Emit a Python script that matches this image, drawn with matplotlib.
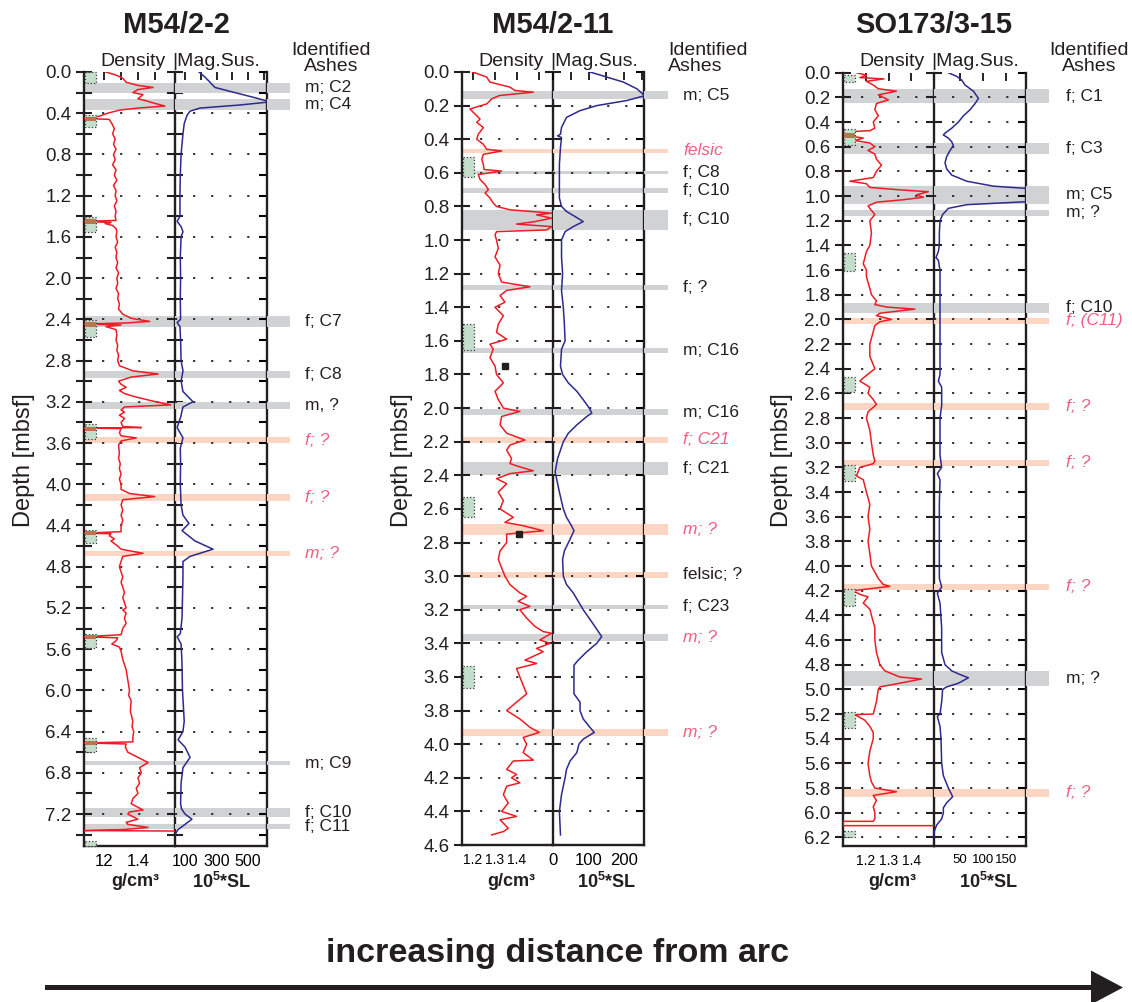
import numpy as np
import matplotlib
matplotlib.use('Agg')
import matplotlib.pyplot as plt
from matplotlib.patches import Rectangle, FancyArrow
from matplotlib.transforms import blended_transform_factory

plt.rcParams['font.family'] = ['Liberation Sans', 'DejaVu Sans']
plt.rcParams['mathtext.fontset'] = 'custom'
plt.rcParams['mathtext.rm'] = 'Liberation Sans'
plt.rcParams['mathtext.bf'] = 'Liberation Sans:bold'

W, H = 1132, 1002
GRAY = '#d1d2d4'
PINK = '#fcd5c3'
PINKTXT = '#ef5f80'
RED = '#ee1c24'
BLUE = '#2b2a8e'

# ---------------- data: M54/2-2 ----------------
m2_density = np.array([
    (0.00,1.21),(0.03,1.27),(0.06,1.31),(0.10,1.33),(0.13,1.40),(0.15,1.49),(0.17,1.40),(0.20,1.37),
    (0.22,1.43),(0.26,1.40),(0.28,1.45),(0.30,1.49),(0.33,1.56),(0.35,1.40),(0.37,1.29),(0.40,1.22),
    (0.43,1.17),(0.45,1.08),(0.46,1.23),(0.50,1.245),(0.55,1.26),(0.60,1.25),(0.65,1.265),(0.70,1.255),
    (0.75,1.27),(0.80,1.255),(0.85,1.265),(0.90,1.25),(0.95,1.27),(1.00,1.26),(1.05,1.275),(1.10,1.255),
    (1.15,1.27),(1.20,1.265),(1.25,1.275),(1.30,1.26),(1.35,1.27),(1.40,1.265),(1.44,1.27),(1.45,1.08),
    (1.46,1.24),(1.47,1.205),(1.49,1.25),(1.52,1.27),(1.55,1.275),(1.60,1.27),(1.65,1.28),(1.70,1.265),
    (1.75,1.275),(1.80,1.27),(1.85,1.28),(1.90,1.27),(1.95,1.285),(2.00,1.275),(2.05,1.28),(2.10,1.27),
    (2.15,1.285),(2.20,1.28),(2.25,1.29),(2.30,1.285),(2.35,1.31),(2.39,1.36),(2.42,1.47),(2.435,1.33),
    (2.445,1.08),(2.455,1.30),(2.47,1.21),(2.50,1.27),(2.55,1.275),(2.60,1.27),(2.65,1.28),(2.70,1.275),
    (2.75,1.285),(2.80,1.28),(2.85,1.29),(2.90,1.37),(2.93,1.52),(2.96,1.36),(3.00,1.285),(3.03,1.30),
    (3.06,1.33),(3.09,1.29),(3.12,1.32),(3.15,1.38),(3.19,1.48),(3.23,1.595),(3.25,1.32),(3.28,1.30),
    (3.30,1.32),(3.33,1.29),(3.36,1.32),(3.40,1.30),(3.44,1.31),(3.45,1.42),(3.455,1.08),(3.46,1.30),
    (3.50,1.29),(3.53,1.30),(3.55,1.39),(3.58,1.30),(3.62,1.285),(3.70,1.29),(3.75,1.285),(3.80,1.295),
    (3.85,1.29),(3.90,1.30),(3.95,1.29),(4.00,1.30),(4.05,1.30),(4.09,1.35),(4.12,1.50),(4.15,1.31),
    (4.20,1.30),(4.25,1.31),(4.30,1.30),(4.35,1.31),(4.40,1.30),(4.46,1.30),(4.475,1.08),(4.48,1.24),
    (4.50,1.23),(4.53,1.26),(4.55,1.24),(4.60,1.28),(4.63,1.30),(4.67,1.43),(4.70,1.31),(4.75,1.30),
    (4.80,1.29),(4.85,1.30),(4.90,1.31),(4.95,1.30),(5.00,1.31),(5.05,1.32),(5.10,1.31),(5.15,1.32),
    (5.20,1.33),(5.22,1.31),(5.25,1.33),(5.30,1.32),(5.35,1.33),(5.40,1.31),(5.46,1.30),(5.48,1.08),
    (5.49,1.28),(5.52,1.27),(5.55,1.245),(5.58,1.29),(5.62,1.30),(5.70,1.31),(5.80,1.33),(5.90,1.34),
    (6.00,1.35),(6.05,1.345),(6.10,1.36),(6.20,1.355),(6.30,1.37),(6.35,1.365),(6.40,1.375),(6.45,1.37),
    (6.50,1.37),(6.51,1.08),(6.52,1.33),(6.55,1.325),(6.60,1.34),(6.65,1.40),(6.70,1.46),(6.75,1.41),
    (6.80,1.42),(6.85,1.40),(6.90,1.41),(6.95,1.39),(7.00,1.40),(7.05,1.37),(7.10,1.36),(7.16,1.43),
    (7.18,1.35),(7.20,1.34),(7.25,1.40),(7.28,1.33),(7.30,1.34),(7.33,1.46),(7.35,1.32),(7.36,1.08),
    (7.365,1.62)])
m2_magsus = np.array([
    (0.00,189),(0.05,227),(0.10,259),(0.15,290),(0.20,417),(0.25,544),(0.29,640),(0.32,449),(0.35,195),
    (0.38,132),(0.42,113),(0.50,95),(0.60,87),(0.80,75),(1.00,70),(1.20,68),(1.40,68),(1.45,50),(1.50,75),
    (1.55,87),(1.60,75),(1.80,70),(2.00,72),(2.20,70),(2.40,72),(2.43,50),(2.47,68),(2.60,72),(2.80,75),
    (2.90,87),(3.00,75),(3.10,87),(3.20,151),(3.25,87),(3.35,72),(3.45,50),(3.55,87),(3.65,70),(3.80,72),
    (4.00,70),(4.20,75),(4.30,87),(4.38,125),(4.45,81),(4.55,163),(4.63,278),(4.70,132),(4.75,87),
    (4.90,87),(5.10,84),(5.30,81),(5.45,70),(5.48,50),(5.55,75),(5.70,80),(6.00,84),(6.30,95),(6.40,87),
    (6.48,56),(6.55,100),(6.65,132),(6.75,87),(6.90,75),(7.10,72),(7.15,78),(7.20,100),(7.25,144),
    (7.30,100),(7.35,56),(7.40,36)])
m2_band_top = [0.11, 0.26, 2.37, 2.90, 3.20, 3.545, 4.09, 4.645, 6.69, 7.14, 7.30]
m2_band_bot = [0.20, 0.37, 2.47, 2.97, 3.27, 3.60, 4.16, 4.70, 6.72, 7.225, 7.345]
m2_band_kind = ['g', 'g', 'g', 'g', 'g', 'p', 'p', 'p', 'g', 'g', 'g']
m2_labels = ['m; C2', 'm; C4', 'f; C7', 'f; C8', 'm, ?', 'f; ?', 'f; ?', 'm; ?', 'm; C9', 'f; C10', 'f; C11']
m2_label_pink = [0, 0, 0, 0, 0, 1, 1, 1, 0, 0, 0]
m2_box_top = [0.00, 0.42, 1.41, 2.406, 3.415, 4.445, 5.45, 6.46, 7.46]
m2_box_bot = [0.11, 0.53, 1.555, 2.57, 3.56, 4.57, 5.59, 6.60, 7.51]
m2_brown_top = [0.44, 1.43, 2.43, 3.44, 4.455, 5.46, 6.49]
m2_brown_bot = [0.48, 1.475, 2.47, 3.48, 4.49, 5.50, 6.53]

# ---------------- data: M54/2-11 ----------------
m11_density = np.array([
    (0.00,1.198),(0.03,1.262),(0.06,1.277),(0.09,1.368),(0.11,1.39),(0.12,1.474),(0.14,1.32),(0.16,1.285),
    (0.19,1.262),(0.22,1.186),(0.25,1.209),(0.28,1.232),(0.30,1.217),(0.33,1.247),(0.37,1.224),(0.40,1.217),
    (0.43,1.247),(0.46,1.262),(0.47,1.33),(0.49,1.247),(0.52,1.24),(0.55,1.247),(0.58,1.25),(0.59,1.33),
    (0.61,1.224),(0.64,1.232),(0.67,1.255),(0.70,1.27),(0.72,1.255),(0.75,1.277),(0.78,1.292),(0.80,1.307),
    (0.82,1.368),(0.84,1.557),(0.85,1.489),(0.87,1.557),(0.89,1.482),(0.905,1.398),(0.92,1.557),(0.94,1.535),
    (0.95,1.307),(0.97,1.30),(1.00,1.307),(1.05,1.315),(1.10,1.30),(1.15,1.323),(1.20,1.315),(1.25,1.33),
    (1.278,1.459),(1.30,1.353),(1.33,1.323),(1.37,1.345),(1.40,1.30),(1.45,1.338),(1.50,1.315),(1.55,1.307),
    (1.59,1.353),(1.62,1.277),(1.65,1.292),(1.70,1.277),(1.75,1.30),(1.80,1.307),(1.85,1.338),(1.90,1.30),
    (1.95,1.315),(2.00,1.338),(2.02,1.413),(2.05,1.33),(2.10,1.323),(2.15,1.353),(2.19,1.436),(2.22,1.368),
    (2.25,1.353),(2.30,1.375),(2.33,1.368),(2.35,1.413),(2.373,1.474),(2.39,1.368),(2.42,1.307),(2.45,1.353),
    (2.50,1.315),(2.55,1.338),(2.60,1.323),(2.65,1.383),(2.68,1.345),(2.70,1.428),(2.73,1.519),(2.75,1.353),
    (2.80,1.353),(2.85,1.323),(2.90,1.315),(2.95,1.33),(3.00,1.345),(3.05,1.368),(3.10,1.413),(3.12,1.444),
    (3.15,1.405),(3.18,1.459),(3.20,1.413),(3.25,1.444),(3.30,1.482),(3.33,1.519),(3.34,1.557),(3.38,1.504),
    (3.40,1.55),(3.43,1.489),(3.45,1.519),(3.50,1.436),(3.52,1.489),(3.55,1.398),(3.60,1.413),(3.65,1.428),
    (3.70,1.444),(3.75,1.398),(3.80,1.353),(3.85,1.413),(3.90,1.459),(3.93,1.501),(3.96,1.428),(4.00,1.444),
    (4.05,1.428),(4.095,1.474),(4.10,1.383),(4.15,1.353),(4.18,1.398),(4.20,1.375),(4.23,1.413),(4.25,1.353),
    (4.30,1.338),(4.35,1.36),(4.40,1.33),(4.43,1.398),(4.45,1.323),(4.50,1.36),(4.52,1.338),(4.54,1.285)])
m11_magsus = np.array([
    (0.00,104),(0.03,151),(0.06,198),(0.10,236),(0.141,258),(0.17,207),(0.20,123),(0.23,76),(0.27,38),
    (0.33,24),(0.37,21),(0.38,13),(0.39,24),(0.45,21),(0.55,18),(0.65,18),(0.75,18),(0.80,24),(0.83,38),
    (0.86,62),(0.89,85),(0.92,57),(0.95,34),(1.00,24),(1.10,24),(1.20,27),(1.30,24),(1.40,29),(1.50,32),
    (1.60,34),(1.65,24),(1.75,21),(1.80,27),(1.85,43),(1.90,67),(1.95,85),(2.00,102),(2.03,109),(2.05,95),
    (2.10,67),(2.15,43),(2.20,29),(2.30,13),(2.38,6),(2.45,13),(2.50,18),(2.60,29),(2.65,38),(2.70,52),
    (2.73,59),(2.78,48),(2.85,32),(2.90,27),(3.00,29),(3.05,38),(3.10,57),(3.20,85),(3.30,118),(3.36,137),
    (3.40,123),(3.45,95),(3.50,71),(3.53,59),(3.60,59),(3.70,59),(3.75,76),(3.80,76),(3.85,85),(3.90,104),
    (3.93,116),(3.97,85),(4.00,73),(4.05,67),(4.10,48),(4.15,38),(4.20,34),(4.30,24),(4.40,18),(4.54,21)])
m11_band_top = [0.113, 0.458, 0.587, 0.69, 0.82, 1.268, 1.645, 2.008, 2.17, 2.32, 2.69, 2.974, 3.17, 3.347, 3.912]
m11_band_bot = [0.161, 0.48, 0.607, 0.72, 0.94, 1.30, 1.675, 2.04, 2.206, 2.40, 2.756, 3.01, 3.195, 3.387, 3.952]
m11_band_kind = ['g', 'p', 'g', 'g', 'g', 'g', 'g', 'g', 'p', 'g', 'p', 'p', 'g', 'g', 'p']
m11_labels = ['m; C5', 'felsic', 'f; C8', 'f; C10', 'f; C10', 'f; ?', 'm; C16', 'm; C16', 'f; C21',
              'f; C21', 'm; ?', 'felsic; ?', 'f; C23', 'm; ?', 'm; ?']
m11_label_pink = [0, 1, 0, 0, 0, 0, 0, 0, 1, 0, 1, 0, 0, 1, 1]
m11_box_top = [0.504, 1.50, 2.53, 3.535]
m11_box_bot = [0.623, 1.655, 2.65, 3.667]
m11_brown_top = []
m11_brown_bot = []
m11_marker_depth = [1.75, 2.75]
m11_marker_density = [1.345, 1.41]

# ---------------- data: SO173/3-15 ----------------
s15_density = np.array([
    (0.00,1.159),(0.02,1.203),(0.04,1.174),(0.05,1.28),(0.07,1.203),(0.10,1.233),(0.13,1.255),(0.15,1.335),
    (0.18,1.255),(0.22,1.299),(0.25,1.247),(0.30,1.24),(0.35,1.255),(0.40,1.233),(0.45,1.24),(0.47,1.218),
    (0.48,1.108),(0.51,1.12),(0.53,1.189),(0.55,1.152),(0.57,1.218),(0.60,1.24),(0.63,1.21),(0.66,1.24),
    (0.70,1.247),(0.75,1.269),(0.80,1.247),(0.85,1.233),(0.88,1.13),(0.90,1.203),(0.93,1.218),(0.95,1.35),
    (0.965,1.475),(0.99,1.423),(1.01,1.453),(1.03,1.365),(1.05,1.247),(1.08,1.21),(1.10,1.218),(1.15,1.24),
    (1.20,1.218),(1.30,1.225),(1.40,1.218),(1.45,1.203),(1.50,1.196),(1.55,1.189),(1.60,1.203),(1.65,1.203),
    (1.70,1.21),(1.75,1.218),(1.80,1.225),(1.85,1.247),(1.88,1.24),(1.90,1.291),(1.917,1.416),(1.95,1.262),
    (1.97,1.247),(2.00,1.313),(2.02,1.262),(2.05,1.24),(2.10,1.233),(2.20,1.218),(2.30,1.218),(2.40,1.24),
    (2.475,1.189),(2.50,1.174),(2.55,1.218),(2.60,1.21),(2.65,1.233),(2.69,1.247),(2.75,1.21),(2.80,1.203),
    (2.90,1.218),(3.00,1.225),(3.10,1.233),(3.15,1.24),(3.17,1.233),(3.20,1.174),(3.27,1.159),(3.30,1.189),
    (3.40,1.203),(3.50,1.218),(3.60,1.21),(3.70,1.218),(3.80,1.21),(3.90,1.218),(4.00,1.225),(4.05,1.24),
    (4.10,1.255),(4.15,1.277),(4.165,1.306),(4.20,1.145),(4.23,1.174),(4.25,1.21),(4.30,1.189),(4.35,1.218),
    (4.40,1.225),(4.50,1.24),(4.60,1.24),(4.70,1.247),(4.80,1.262),(4.85,1.284),(4.90,1.35),(4.916,1.445),
    (4.96,1.321),(4.98,1.262),(5.00,1.255),(5.10,1.247),(5.15,1.24),(5.20,1.233),(5.205,1.152),(5.25,1.196),
    (5.30,1.218),(5.35,1.233),(5.40,1.233),(5.50,1.218),(5.60,1.21),(5.70,1.218),(5.75,1.225),(5.80,1.24),
    (5.83,1.335),(5.86,1.233),(5.90,1.247),(5.95,1.233),(6.00,1.24),(6.05,1.24),(6.07,1.233),(6.07,1.10),
    (6.105,1.10),(6.105,1.50)])
s15_magsus = np.array([
    (0.00,24.6),(0.03,43),(0.06,53.6),(0.10,60.9),(0.15,79),(0.208,89.9),(0.25,82.6),(0.30,71.7),(0.35,57.2),
    (0.40,46.4),(0.45,31.9),(0.49,17.4),(0.505,13.8),(0.53,24.6),(0.56,31.9),(0.59,35.5),(0.63,28.3),
    (0.68,21),(0.73,17.4),(0.78,21),(0.83,31.9),(0.88,64.5),(0.92,122.5),(0.94,200),(1.045,200),(1.07,64.5),
    (1.10,24.6),(1.15,12.3),(1.20,6.5),(1.30,5.1),(1.40,5.1),(1.45,2.9),(1.50,-2.2),(1.52,2.9),(1.60,6.5),
    (1.80,6.5),(2.00,6.5),(2.20,6.5),(2.45,6.5),(2.50,2.9),(2.55,10.1),(2.70,10.1),(2.80,6.5),(3.10,6.5),
    (3.20,10.1),(3.25,0.7),(3.30,6.5),(3.50,5.1),(3.80,5.1),(4.10,5.1),(4.17,10.1),(4.22,0.7),(4.30,6.5),
    (4.50,10.1),(4.70,10.1),(4.80,17.4),(4.85,31.9),(4.88,50),(4.906,68.1),(4.95,46.4),(4.98,21),(5.00,12.3),
    (5.10,10.1),(5.20,6.5),(5.22,0.7),(5.30,6.5),(5.40,8.7),(5.60,10.1),(5.70,13.8),(5.80,24.6),(5.87,34),
    (5.92,21),(5.96,13.8),(6.00,13.8),(6.05,10.1),(6.10,-0.7),(6.15,-5.8),(6.20,-6.5)])
s15_band_top = [0.135, 0.567, 0.918, 1.113, 1.864, 1.988, 2.68, 3.139, 4.143, 4.849, 5.805]
s15_band_bot = [0.248, 0.659, 1.064, 1.161, 1.95, 2.036, 2.733, 3.187, 4.192, 4.97, 5.872]
s15_band_kind = ['g', 'g', 'g', 'g', 'g', 'p', 'p', 'p', 'p', 'g', 'p']
s15_labels = ['f; C1', 'f; C3', 'm; C5', 'm; ?', 'f; C10', 'f; (C11)', 'f; ?', 'f; ?', 'f; ?', 'm; ?', 'f; ?']
s15_label_pink = [0, 0, 0, 0, 0, 1, 1, 1, 1, 0, 1]
s15_box_top = [0.02, 0.459, 1.464, 2.47, 3.18, 4.186, 5.18, 6.15]
s15_box_bot = [0.078, 0.586, 1.605, 2.59, 3.31, 4.32, 5.31, 6.20]
s15_brown_top = [0.49]
s15_brown_bot = [0.53]

# ---------------- layout (pixels) ----------------
layouts = [
    dict(title='M54/2-2', x=(84, 175, 267), y=(72, 846), ylim=(0, 7.51), band_end=290, label_x=305,
         dens_lim=(1.08, 1.62), mag_lim=(36.5, 620),
         dens_ticks=[1.1, 1.2, 1.3, 1.4, 1.5], dens_lab=['', '12', '', '1.4', ''],
         mag_ticks=[100, 200, 300, 400, 500, 600], mag_lab=['100', '', '300', '', '500', ''],
         xfs=(12, 11.5), ytick_step=0.2, ylab_every=2, ytop=7.4, title_x=176, unit_x=(135, 222),
         depth_x=24, ident=(331, 'center')),
    dict(title='M54/2-11', x=(462, 553, 644), y=(72, 845), ylim=(0, 4.6), band_end=668, label_x=683,
         dens_lim=(1.15, 1.5636), mag_lim=(0, 256),
         dens_ticks=[1.2, 1.3, 1.4, 1.5], dens_lab=['1.2', '1.3', '1.4', ''],
         mag_ticks=[0, 50, 100, 150, 200, 250], mag_lab=['0', '', '100', '', '200', ''],
         xfs=(10, 12), ytick_step=0.2, ylab_every=1, ytop=4.6, title_x=553, unit_x=(511, 607),
         depth_x=402, ident=(668, 'left')),
    dict(title='SO173/3-15', x=(843, 934, 1026), y=(72.7, 846), ylim=(0, 6.27), band_end=1049, label_x=1066,
         dens_lim=(1.10, 1.496), mag_lim=(-6.5, 193),
         dens_ticks=[1.2, 1.3, 1.4, 1.5], dens_lab=['1.2', '1.3', '1.4', ''],
         mag_ticks=[50, 100, 150], mag_lab=['50', '100', '150'],
         xfs=(10, 9.5), ytick_step=0.2, ylab_every=1, ytop=6.2, title_x=934, unit_x=(892, 989),
         depth_x=782, ident=(1089, 'center')),
]

cores = [
    dict(dens=m2_density, mag=m2_magsus, band_top=m2_band_top, band_bot=m2_band_bot, band_kind=m2_band_kind,
         labels=m2_labels, label_pink=m2_label_pink, box_top=m2_box_top, box_bot=m2_box_bot,
         brown_top=m2_brown_top, brown_bot=m2_brown_bot),
    dict(dens=m11_density, mag=m11_magsus, band_top=m11_band_top, band_bot=m11_band_bot, band_kind=m11_band_kind,
         labels=m11_labels, label_pink=m11_label_pink, box_top=m11_box_top, box_bot=m11_box_bot,
         brown_top=m11_brown_top, brown_bot=m11_brown_bot),
    dict(dens=s15_density, mag=s15_magsus, band_top=s15_band_top, band_bot=s15_band_bot, band_kind=s15_band_kind,
         labels=s15_labels, label_pink=s15_label_pink, box_top=s15_box_top, box_bot=s15_box_bot,
         brown_top=s15_brown_top, brown_bot=s15_brown_bot),
]

fig = plt.figure(figsize=(W / 100, H / 100), dpi=100)
bg = fig.add_axes([0, 0, 1, 1])
bg.set_xlim(0, W)
bg.set_ylim(H, 0)
bg.axis('off')


def fax(x0, x1, y0, y1):
    return fig.add_axes([x0 / W, 1 - y1 / H, (x1 - x0) / W, (y1 - y0) / H])


def draw_core(c, lay):
    xl, xm, xr = lay['x']
    yt, yb = lay['y']
    axd = fax(xl, xm, yt, yb)
    axm = fax(xm, xr, yt, yb)
    axe = fax(xr, lay['band_end'], yt, yb)
    for ax in (axd, axm, axe):
        ax.set_ylim(lay['ylim'][1], lay['ylim'][0])
        ax.patch.set_visible(False)
    axe.axis('off')
    axd.set_xlim(*lay['dens_lim'])
    axm.set_xlim(*lay['mag_lim'])

    # ash layers
    for top, bot, kind in zip(c['band_top'], c['band_bot'], c['band_kind']):
        col = GRAY if kind == 'g' else PINK
        for ax in (axd, axm, axe):
            ax.axhspan(top, bot, color=col, lw=0, zorder=0)
    lab_tr = blended_transform_factory(bg.transData, axd.transData)
    for top, bot, txt, pk in zip(c['band_top'], c['band_bot'], c['labels'], c['label_pink']):
        bg.text(lay['label_x'], (top + bot) / 2, txt, transform=lab_tr, ha='left', va='center',
                fontsize=12.5, color=PINKTXT if pk else '#231f20', style='italic' if pk else 'normal',
                clip_on=False)

    # ticks and grid
    yt_all = np.round(np.arange(0, lay['ytop'] + 1e-6, lay['ytick_step']), 2)
    ylabs = ['%.1f' % v if i % lay['ylab_every'] == 0 else '' for i, v in enumerate(yt_all)]
    grid = [v for i, v in enumerate(yt_all) if i % lay['ylab_every'] == 0 and v > 0]
    for d in grid:
        for ax in (axd, axm):
            ax.axhline(d, color='#231f20', lw=1.3, ls=(0, (1.2, 8.8)), zorder=1)

    axd.set_yticks(yt_all)
    axd.set_yticklabels(ylabs)
    axm.set_yticks(yt_all)
    axd.tick_params(axis='y', left=True, right=True, direction='inout', length=12, width=1.5,
                    labelsize=13.5, pad=3, colors='#231f20')
    axm.tick_params(axis='y', left=False, right=True, direction='in', length=6, width=1.5,
                    labelleft=False)
    axd.set_xticks(lay['dens_ticks'])
    axd.set_xticklabels(lay['dens_lab'], fontsize=lay['xfs'][0])
    axm.set_xticks(lay['mag_ticks'])
    axm.set_xticklabels(lay['mag_lab'], fontsize=lay['xfs'][1])
    for ax in (axd, axm):
        ax.tick_params(axis='x', bottom=False, top=True, direction='in', length=6, width=1.2,
                       labelbottom=True, pad=6)
        ax.spines['top'].set_visible(False)
        for s in ax.spines.values():
            s.set_linewidth(1.7)
            s.set_color('#231f20')
    axm.spines['left'].set_visible(False)

    # curves
    axd.plot(c['dens'][:, 1], c['dens'][:, 0], color=RED, lw=1.1, zorder=3)
    axm.plot(c['mag'][:, 1], c['mag'][:, 0], color=BLUE, lw=1.1, zorder=3)

    # sample boxes
    tr = blended_transform_factory(axd.transAxes, axd.transData)
    bw = 11.0 / (xm - xl)
    for top, bot in zip(c['box_top'], c['box_bot']):
        axd.add_patch(Rectangle((0.01, top), bw, bot - top, transform=tr, fc='#c4decb', ec='#3a3a3a',
                                lw=0.9, ls=':', zorder=4, clip_on=False))
    for top, bot in zip(c['brown_top'], c['brown_bot']):
        axd.add_patch(Rectangle((0.01, top), bw, bot - top, transform=tr, fc='#b8764f', ec='none',
                                zorder=5, clip_on=False))

    # header texts
    bg.text(lay['title_x'], 25, lay['title'], ha='center', va='center', fontsize=21, weight='bold',
            color='#231f20')
    bg.text(xm - 9, 66, 'Density', ha='right', va='baseline', fontsize=14, color='#231f20')
    bg.text(xm - 3, 66, '|Mag.Sus.', ha='left', va='baseline', fontsize=14, color='#231f20')
    ix, iha = lay['ident']
    bg.text(ix, 50, 'Identified', ha=iha, va='center', fontsize=14, color='#231f20')
    bg.text(ix, 66, 'Ashes', ha=iha, va='center', fontsize=14, color='#231f20')
    bg.text(lay['unit_x'][0], 882, 'g/cm³', ha='center', va='center', fontsize=13, weight='bold',
            color='#231f20')
    bg.text(lay['unit_x'][1], 882, r'$\mathbf{10^5}$*SL', ha='center', va='center', fontsize=13,
            weight='bold', color='#231f20')
    bg.text(lay['depth_x'], 460, 'Depth [mbsf]', rotation=90, ha='center', va='center', fontsize=17,
            color='#231f20')
    return axd


for core, lay in zip(cores, layouts):
    axd = draw_core(core, lay)
    if lay['title'] == 'M54/2-11':
        axd.plot(m11_marker_density, m11_marker_depth, 's', color='#231f20', ms=5, zorder=6)

bg.text(558, 962, 'increasing distance from arc', ha='center', va='baseline', fontsize=24.5,
        weight='bold', color='#231f20')
bg.add_patch(FancyArrow(45, 987.5, 1078, 0, width=5, head_width=34, head_length=32,
                        length_includes_head=True, color='#231f20', lw=0))

fig.savefig('out.png', dpi=100)
